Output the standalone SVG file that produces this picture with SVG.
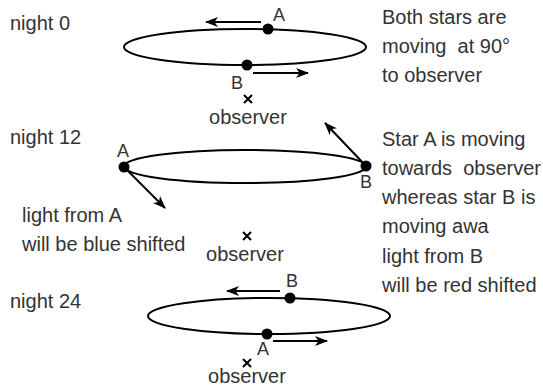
<svg xmlns="http://www.w3.org/2000/svg" width="543" height="388" viewBox="0 0 543 388">
<defs>
<marker id="ah" viewBox="0 0 13 10" refX="12" refY="5" markerWidth="13" markerHeight="10" markerUnits="userSpaceOnUse" orient="auto">
<path d="M0,0 L13,5 L0,10 L3.5,5 Z" fill="#000"/>
</marker>
<style>
.t{font-family:"Liberation Sans",Arial,sans-serif;font-size:20px;fill:#333;white-space:pre}
.lb{font-family:"Liberation Sans",Arial,sans-serif;font-size:18px;fill:#333}
.orb{fill:none;stroke:#000;stroke-width:2}
.star{fill:#000}
.arr{stroke:#000;stroke-width:2;fill:none;marker-end:url(#ah)}
.x{stroke:#000;stroke-width:2;fill:none}
</style>
</defs>
<rect width="543" height="388" fill="#fff"/>

<g id="night0">
<text class="t" x="10" y="30">night 0</text>
<ellipse class="orb" cx="245" cy="47" rx="121" ry="18"/>
<circle id="n0-starA" class="star" cx="268" cy="29" r="5.5"/>
<circle id="n0-starB" class="star" cx="247" cy="65" r="5.5"/>
<text class="lb" x="273" y="21">A</text>
<text class="lb" x="231" y="89">B</text>
<path class="x" d="M244,95 L252,103 M252,95 L244,103"/>
<text class="t" x="248" y="124" text-anchor="middle">observer</text>
</g>

<g id="night12">
<text class="t" x="10" y="144">night 12</text>
<ellipse class="orb" cx="245" cy="166.5" rx="121" ry="16.5"/>
<circle id="n12-starA" class="star" cx="124" cy="167" r="5.5"/>
<circle id="n12-starB" class="star" cx="366" cy="166" r="5.5"/>
<text class="lb" x="117" y="157">A</text>
<text class="lb" x="360" y="188">B</text>
<path class="x" d="M243,232 L251,240 M251,232 L243,240"/>
<text class="t" x="245" y="261" text-anchor="middle">observer</text>
</g>

<g id="night24">
<text class="t" x="10" y="308">night 24</text>
<ellipse class="orb" cx="269" cy="316" rx="121" ry="18"/>
<circle id="n24-starB" class="star" cx="290" cy="298" r="5.5"/>
<circle id="n24-starA" class="star" cx="267" cy="334" r="5.5"/>
<text class="lb" x="286" y="287">B</text>
<text class="lb" x="257" y="355">A</text>
<path class="x" d="M243,359 L251,367 M251,359 L243,367"/>
<text class="t" x="247" y="383" text-anchor="middle">observer</text>
</g>

<g id="notes">
<text class="t" x="382" y="24">Both stars are</text>
<text class="t" x="382" y="53">moving  at 90°</text>
<text class="t" x="382" y="82">to observer</text>
<text class="t" x="382" y="146">Star A is moving</text>
<text class="t" x="382" y="175">towards  observer</text>
<text class="t" x="382" y="204">whereas star B is</text>
<text class="t" x="382" y="233">moving awa</text>
<text class="t" x="382" y="263">light from B</text>
<text class="t" x="382" y="292">will be red shifted</text>
<text class="t" x="22" y="222">light from A</text>
<text class="t" x="22" y="251">will be blue shifted</text>
</g>

<g id="connectors">
<line class="arr" x1="261" y1="22" x2="206" y2="22"/>
<line class="arr" x1="253" y1="73" x2="308" y2="73"/>
<line class="arr" x1="124" y1="167" x2="165" y2="208"/>
<line class="arr" x1="366" y1="166" x2="325" y2="123"/>
<line class="arr" x1="280" y1="291" x2="227" y2="291"/>
<line class="arr" x1="273" y1="341" x2="327" y2="341"/>
</g>
</svg>
